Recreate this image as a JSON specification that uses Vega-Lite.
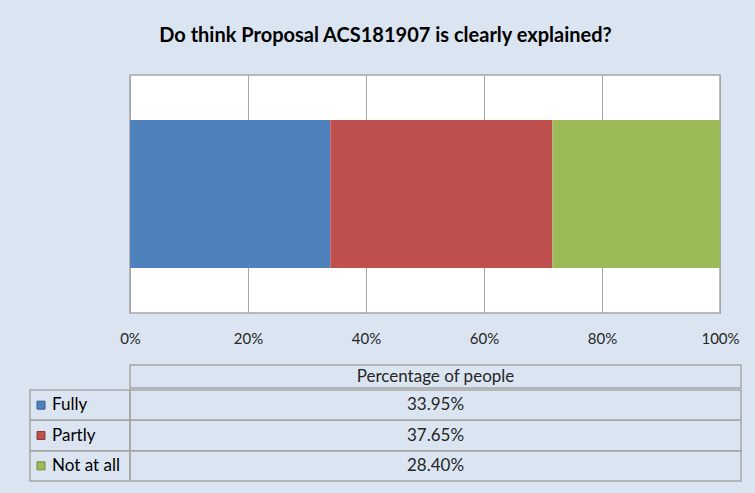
{
  "$schema": "https://vega.github.io/schema/vega-lite/v6.json",
  "background": "#dbe5f1",
  "padding": {"left": 29, "top": 26, "right": 15, "bottom": 16},
  "spacing": 0,
  "title": {"text": "Do think Proposal  ACS181907 is clearly explained?", "fontSize": 20, "fontWeight": "bold", "color": "#000000", "offset": 12, "baseline": "alphabetic", "anchor": "middle", "frame": "bounds"},
  "config": {"view": {"stroke": null}, "font": "Lato", "concat": {"spacing": 0}},
  "datasets": {
    "resp": [
      {"series": "Percentage of people", "answer": "Fully", "pct": 0.3395, "rank": 1},
      {"series": "Percentage of people", "answer": "Partly", "pct": 0.3765, "rank": 2},
      {"series": "Percentage of people", "answer": "Not at all", "pct": 0.284, "rank": 3}
    ]
  },
  "vconcat": [
    {
      "spacing": 0,
      "bounds": "flush",
      "hconcat": [
        {
          "width": 100,
          "height": 238,
          "data": {"name": "resp"},
          "mark": {"type": "rect", "opacity": 0},
          "encoding": {}
        },
        {
          "width": 590,
          "height": 238,
          "view": {"stroke": "#a6a6a6", "strokeWidth": 1.5, "fill": "#ffffff"},
          "data": {"name": "resp"},
          "mark": {"type": "bar"},
          "encoding": {
            "x": {"field": "pct", "type": "quantitative", "stack": "zero", "scale": {"domain": [0, 1]},
              "axis": {"values": [0, 0.2, 0.4, 0.6, 0.8, 1], "format": "%", "grid": true, "gridColor": "#a6a6a6", "gridWidth": 1, "ticks": false, "domain": false, "labelFontSize": 15, "labelColor": "#262626", "labelPadding": 18, "labelFlush": false, "labelOverlap": false, "title": null, "minExtent": 50, "maxExtent": 50}},
            "y": {"field": "series", "type": "nominal", "scale": {"paddingInner": 0, "paddingOuter": 0.304}, "axis": null},
            "color": {"field": "answer", "type": "nominal", "scale": {"domain": ["Fully", "Partly", "Not at all"], "range": ["#4f81bd", "#c0504d", "#9bbb59"]}, "legend": null},
            "order": {"field": "rank", "type": "quantitative"}
          }
        }
      ]
    },
    {
      "spacing": 0,
      "bounds": "flush",
      "hconcat": [
        {
          "width": 100,
          "height": 23,
          "data": {"name": "resp"},
          "mark": {"type": "rect", "opacity": 0},
          "encoding": {}
        },
        {
          "width": 611,
          "height": 23,
          "data": {"name": "resp"},
          "transform": [{"aggregate": [{"op": "count", "as": "n"}], "groupby": ["series"]}],
          "layer": [
            {
              "mark": {"type": "rect", "fill": "transparent", "stroke": "#a6a6a6", "strokeWidth": 1.5},
              "encoding": {
                "y": {"field": "series", "type": "nominal", "axis": null}
              }
            },
            {
              "mark": {"type": "text", "fontSize": 17, "color": "#262626", "baseline": "middle"},
              "encoding": {
                "y": {"field": "series", "type": "nominal", "axis": null},
                "text": {"field": "series"}
              }
            }
          ]
        }
      ]
    },
    {
      "spacing": 0,
      "bounds": "flush",
      "hconcat": [
        {
          "width": 100,
          "height": 91,
          "data": {"name": "resp"},
          "layer": [
            {
              "mark": {"type": "rect", "fill": "transparent", "stroke": "#a6a6a6", "strokeWidth": 1.5},
              "encoding": {
                "y": {"field": "answer", "type": "nominal", "sort": ["Fully", "Partly", "Not at all"], "axis": null}
              }
            },
            {
              "mark": {"type": "square", "size": 64, "filled": true, "strokeWidth": 1, "opacity": 1},
              "encoding": {
                "y": {"field": "answer", "type": "nominal", "sort": ["Fully", "Partly", "Not at all"], "axis": null},
                "x": {"value": 11},
                "color": {"field": "answer", "type": "nominal", "scale": {"domain": ["Fully", "Partly", "Not at all"], "range": ["#4f81bd", "#c0504d", "#9bbb59"]}, "legend": null},
                "stroke": {"field": "answer", "type": "nominal", "scale": {"domain": ["Fully", "Partly", "Not at all"], "range": ["#385d8a", "#8c3836", "#71893f"]}, "legend": null}
              }
            },
            {
              "mark": {"type": "text", "fontSize": 17, "color": "#000000", "align": "left", "baseline": "middle"},
              "encoding": {
                "y": {"field": "answer", "type": "nominal", "sort": ["Fully", "Partly", "Not at all"], "axis": null},
                "x": {"value": 22},
                "text": {"field": "answer"}
              }
            }
          ]
        },
        {
          "width": 611,
          "height": 91,
          "data": {"name": "resp"},
          "layer": [
            {
              "mark": {"type": "rect", "fill": "transparent", "stroke": "#a6a6a6", "strokeWidth": 1.5},
              "encoding": {
                "y": {"field": "answer", "type": "nominal", "sort": ["Fully", "Partly", "Not at all"], "axis": null}
              }
            },
            {
              "mark": {"type": "text", "fontSize": 17, "color": "#262626", "baseline": "middle"},
              "encoding": {
                "y": {"field": "answer", "type": "nominal", "sort": ["Fully", "Partly", "Not at all"], "axis": null},
                "text": {"field": "pct", "type": "quantitative", "format": ".2%"}
              }
            }
          ]
        }
      ]
    }
  ]
}
